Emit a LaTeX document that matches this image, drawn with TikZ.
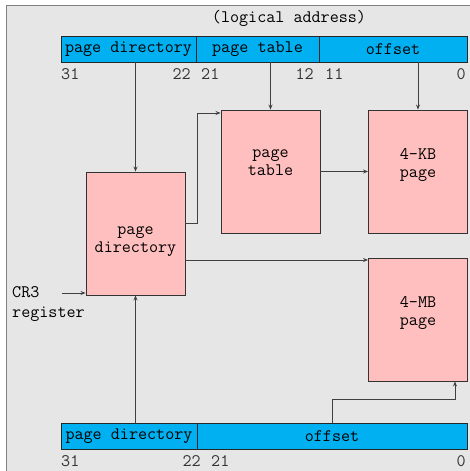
\documentclass[tikz,border=0pt]{standalone}
\usepackage{fontspec}
\usetikzlibrary{arrows.meta}
\definecolor{fieldblue}{HTML}{00B0F0}
\definecolor{tablepink}{HTML}{FFBFBF}
\definecolor{panelgray}{HTML}{E6E6E6}
\definecolor{wiregray}{HTML}{404040}

\begin{document}
\begin{tikzpicture}[
    x=1pt, y=-1pt,
    >={Stealth[length=5pt, width=4pt]},
    txt/.style   = {font=\ttfamily\fontsize{17.6}{18}\selectfont, inner sep=0pt},
    line/.style  = {wiregray, line width=0.9pt},
    field/.style = {txt, draw=black!85, line width=0.9pt, fill=fieldblue,
                    minimum height=26pt},
    block/.style = {txt, draw=black!80, line width=0.9pt, fill=tablepink,
                    minimum width=99pt, minimum height=123pt, align=center},
    raised/.style  = {text depth=17pt},
    lowered/.style = {text height=43pt},
    bit/.style   = {txt, text=black!80}
]
\useasboundingbox (0,0) rectangle (470,471);

% Panel
\draw[fill=panelgray, draw=gray, line width=0.9pt] (6,5) rectangle (490,490);
\node[txt] (title) at (289,18) {(logical address)};

% Linear address, 4-KB paging
\node[field, minimum width=135pt] (pdf) at (128.5,49) {page directory};
\node[field, minimum width=123pt] (ptf) at (257.5,49) {page table};
\node[field, minimum width=148pt] (off) at (393,49)   {offset};
\node[bit, anchor=west] (t31) at (61,74)  {31};
\node[bit, anchor=east] (t22) at (191,74) {22};
\node[bit, anchor=west] (t21) at (201,74) {21};
\node[bit, anchor=east] (t12) at (314,74) {12};
\node[bit, anchor=west] (t11) at (325,74) {11};
\node[bit, anchor=east] (t0)  at (466,74) {0};

% Tables and pages
\node[block, lowered] (pdir) at (135.5,233.5) {page\\directory};
\node[block, raised] (ptab) at (270.5,171.5) {page\\table};
\node[block, raised] (kb)   at (418,171.5)   {4-KB\\page};
\node[block, raised] (mb)   at (418,319.5)   {4-MB\\page};

% Linear address, 4-MB paging
\node[field, minimum width=136pt] (pdf2) at (129,436.5) {page directory};
\node[field, minimum width=270pt] (off2) at (332,436.5) {offset};
\node[bit, anchor=west] (u31) at (61,461)  {31};
\node[bit, anchor=east] (u22) at (201,461) {22};
\node[bit, anchor=west] (u21) at (211,461) {21};
\node[bit, anchor=east] (u0)  at (466,461) {0};

% CR3
\node[txt, align=left, anchor=west, font=\ttfamily\fontsize{17.6}{20}\selectfont]
    (cr3) at (12,304) {CR3\\register};
\coordinate (cr3in) at (62,293);

% Connectors
\draw[->, line] (pdf.south -| pdir.north) -- (pdir.north);
\draw[->, line] (ptf.south -| ptab.north) -- (ptab.north);
\draw[->, line] (off.south -| kb.north) -- (kb.north);
\coordinate (pdturn) at (197,223);
\draw[->, line] (pdir.east |- pdturn) -- (pdturn) |- (ptab.west |- 0,113);
\draw[->, line] (ptab.east) -- (kb.west);
\draw[->, line] (pdir.east |- 0,260) -- (mb.west |- 0,260);
\draw[->, line] (cr3in) -- (pdir.west |- cr3in);
\draw[->, line] (pdf2.north -| pdir.south) -- (pdir.south);
\coordinate (mbin) at (455,399);
\draw[->, line] (off2.north) |- (mbin) -- (mbin |- mb.south);

\end{tikzpicture}
\end{document}
